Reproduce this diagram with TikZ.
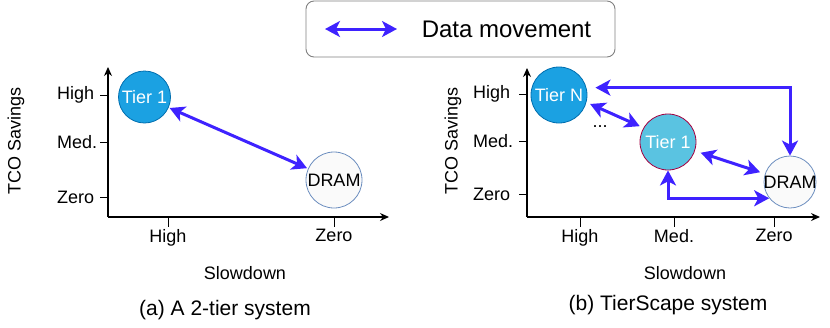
\documentclass[tikz,border=0pt]{standalone}
\usepackage{fontspec}
\setmainfont{Liberation Sans}
\usetikzlibrary{arrows.meta}
\definecolor{movecol}{HTML}{3E22FF}
\definecolor{tierblue}{HTML}{1BA1E2}
\definecolor{tierline}{HTML}{006EAF}
\definecolor{tiercyan}{HTML}{5AC3E1}
\definecolor{tierred}{HTML}{A50040}
\definecolor{dramfill}{HTML}{FAFAFA}
\definecolor{dramline}{HTML}{6C8EBF}
\begin{document}
\begin{tikzpicture}[x=1pt, y=-1pt,
  every node/.style={font=\fontsize{18}{20}\selectfont},
  axis/.style={line width=1.3pt, -{Stealth[length=9pt,width=8pt]}},
  tick/.style={line width=0.9pt},
  move/.style={line width=3pt, draw=movecol,
    {Stealth[length=15pt,width=16pt,inset=4pt]}-{Stealth[length=15pt,width=16pt,inset=4pt]}},
  tierdark/.style={circle, draw=tierline, fill=tierblue, text=white, inner sep=0pt, line width=0.8pt},
  tierlight/.style={circle, draw=tierred, fill=tiercyan, text=white, inner sep=0pt, line width=0.8pt},
  dram/.style={circle, draw=dramline, fill=dramfill, inner sep=0pt, line width=0.8pt}]
\useasboundingbox (0,0) rectangle (830,327);

% legend
\node[draw=black!50, rounded corners=8pt, line width=0.9pt, minimum width=309pt, minimum height=56pt] (legend) at (460.5,29) {};
\coordinate (legA) at (325,29);
\coordinate (legB) at (397,29);
\draw[move] (legA) -- (legB);
\node[font=\fontsize{24}{28}\selectfont] (legtxt) at (506.5,29) {Data movement};

% (a) 2-tier
\draw[axis] (108,217) -- (108,67);
\draw[axis] (108,217) -- (389,217);
\foreach \y/\t [count=\i] in {95/High, 142/Med., 197/Zero} {
  \draw[tick] (100,\y) -- (108,\y);
  \node[anchor=west, inner sep=0pt] (ly\i) at (57,\y) {\t};
}
\foreach \x/\t [count=\i] in {168/High, 334/Zero} {
  \draw[tick] (\x,217) -- (\x,227);
  \node[below, inner sep=2pt] (lx\i) at (\x,227) {\t};
}
\node[rotate=90] (lylab) at (16,141) {TCO Savings};
\node (lxlab) at (245,273) {Slowdown};
\node[font=\fontsize{21}{24}\selectfont] (lcap) at (225,310) {(a) A 2-tier system};
\node[tierdark, minimum size=52pt] (lt1) at (144.5,97) {Tier 1};
\node[dram, minimum size=56pt] (ldram) at (334,180) {DRAM};
\draw[move, shorten <=1pt, shorten >=1pt] (lt1) -- (ldram);

% (b) TierScape
\draw[axis] (527,217) -- (527,68);
\draw[axis] (527,217) -- (820,217);
\foreach \y/\t [count=\i] in {94/High, 141/Med., 194/Zero} {
  \draw[tick] (519,\y) -- (527,\y);
  \node[anchor=west, inner sep=0pt] (ry\i) at (473,\y) {\t};
}
\foreach \x/\t [count=\i] in {580/High, 674/Med., 774/Zero} {
  \draw[tick] (\x,217) -- (\x,227);
  \node[below, inner sep=2pt] (rx\i) at (\x,227) {\t};
}
\node[rotate=90] (rylab) at (453,141) {TCO Savings};
\node (rxlab) at (685,273) {Slowdown};
\node[font=\fontsize{21}{24}\selectfont] (rcap) at (668,305) {(b) TierScape system};
\node[tierdark, minimum size=56pt] (tierN) at (559,95) {Tier N};
\node[tierlight, minimum size=56pt] (tier1) at (668,142) {Tier 1};
\node[dram, minimum size=52pt, inner sep=-2pt] (dram) at (790,182) {DRAM};
\node[anchor=base] (dots) at (600,127) {...};
\draw[move, shorten <=4pt, shorten >=4pt] (tierN.-15) -- (tier1.150);
\draw[move, shorten <=6pt, shorten >=5pt] (tier1) -- (dram);
\draw[move] (tier1.south) |- (dram.218);
\draw[move, shorten >=9pt] (dram.north) |- (tierN.15);
\end{tikzpicture}
\end{document}
